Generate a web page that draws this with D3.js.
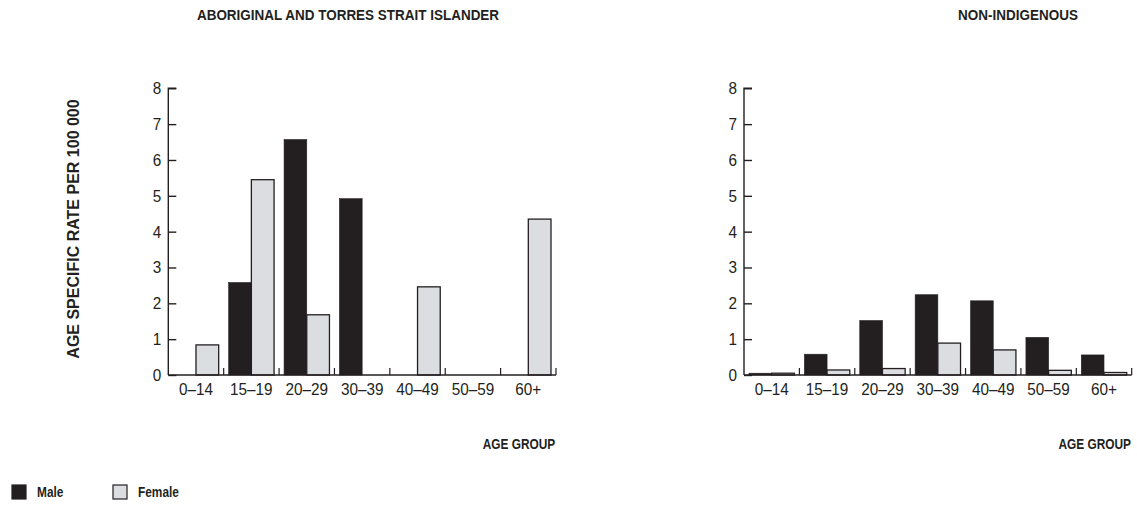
<!DOCTYPE html>
<html><head><meta charset="utf-8">
<script src="https://cdn.jsdelivr.net/npm/d3@7"></script>
<style>
html,body{margin:0;padding:0;background:#fff;}
text{font-family:'Liberation Sans',Arial,Helvetica,sans-serif;fill:#231f20;}
</style></head>
<body>
<svg id="chart" width="1137" height="505"></svg>
<script>
const categories = ["0–14","15–19","20–29","30–39","40–49","50–59","60+"];
const sexes = ["Male","Female"];
const indigenousMale   = [0, 2.58, 6.57, 4.92, 0, 0, 0];
const indigenousFemale = [0.84, 5.45, 1.68, 0, 2.46, 0, 4.35];
const nonIndigMale     = [0.05, 0.58, 1.52, 2.24, 2.07, 1.05, 0.56];
const nonIndigFemale   = [0.05, 0.14, 0.18, 0.89, 0.70, 0.13, 0.07];
const yTicks = [0,1,2,3,4,5,6,7,8];
const panelTitles = ["ABORIGINAL AND TORRES STRAIT ISLANDER","NON-INDIGENOUS"];

const colors = {Male:"#231f20", Female:"#dcdde0"};
const ink = "#231f20";
const svg = d3.select("#chart");

const y = d3.scaleLinear().domain([0,8]).range([375,88.3]);

function ctext(parent, x, yy, str, size, bold, anchor, sx){
  return parent.append("text")
    .attr("transform", `translate(${x},${yy}) scale(${sx},1)`)
    .attr("text-anchor", anchor)
    .attr("font-size", size)
    .attr("font-weight", bold ? "bold" : "normal")
    .text(str);
}

function panel(x0, title, titleX, male, female){
  const g = svg.append("g");
  const x = d3.scaleBand().domain(categories).range([x0, x0+387.7]).padding(0);
  const xs = d3.scaleBand().domain(sexes).range([5, x.bandwidth()-5]).padding(0);
  const rows = categories.map((c,i)=>({cat:c, Male:male[i], Female:female[i]}));

  rows.forEach(r=>{
    sexes.forEach(s=>{
      g.append("rect")
        .attr("x", x(r.cat)+xs(s))
        .attr("y", y(r[s]))
        .attr("width", xs.bandwidth())
        .attr("height", y(0)-y(r[s]))
        .attr("fill", colors[s])
        .attr("stroke", ink)
        .attr("stroke-width", s==="Male"?0.6:1.3);
    });
  });

  const ya = d3.axisRight(y).tickValues(yTicks).tickSize(8).tickFormat("");
  const yg = g.append("g").attr("transform",`translate(${x0},0)`).call(ya);
  yg.select(".domain").attr("d",`M8,${y(8)}H0V${y(0)}`).attr("stroke",ink).attr("stroke-width",1.4);
  yg.selectAll(".tick line").attr("stroke",ink).attr("stroke-width",1.4);
  yTicks.forEach(d=>ctext(g, x0-7, y(d)+6, d, 17, false, "end", 0.9));

  g.append("line").attr("x1",x0).attr("x2",x0+387.7).attr("y1",y(0)).attr("y2",y(0))
    .attr("stroke",ink).attr("stroke-width",1.4);
  categories.forEach((c,i)=>{
    const bx = x(c)+x.bandwidth();
    g.append("line").attr("x1",bx).attr("x2",bx).attr("y1",y(0)).attr("y2",y(0)-7)
      .attr("stroke",ink).attr("stroke-width",1.2);
    ctext(g, x(c)+x.bandwidth()/2, 395, c, 17, false, "middle", 0.9);
  });

  ctext(g, titleX, 20, title, 15.5, true, "middle", 0.87);
  ctext(g, x0+387, 449, "AGE GROUP", 14.5, true, "end", 0.82);
}

panel(168.3, panelTitles[0], 348, indigenousMale, indigenousFemale);
panel(744, panelTitles[1], 1018, nonIndigMale, nonIndigFemale);

svg.append("text").attr("transform","translate(79,229) rotate(-90)")
  .attr("text-anchor","middle").attr("font-weight","bold").attr("font-size",16)
  .text("AGE SPECIFIC RATE PER 100 000");

const leg = svg.append("g");
[[12,37,"Male"],[113,138,"Female"]].forEach(([rx,tx,s])=>{
  leg.append("rect").attr("x",rx).attr("y",485).attr("width",14).attr("height",14)
    .attr("fill",colors[s]).attr("stroke",ink).attr("stroke-width",1.2);
  ctext(leg, tx, 497, s, 14.5, true, "start", 0.82);
});
</script>
</body></html>
